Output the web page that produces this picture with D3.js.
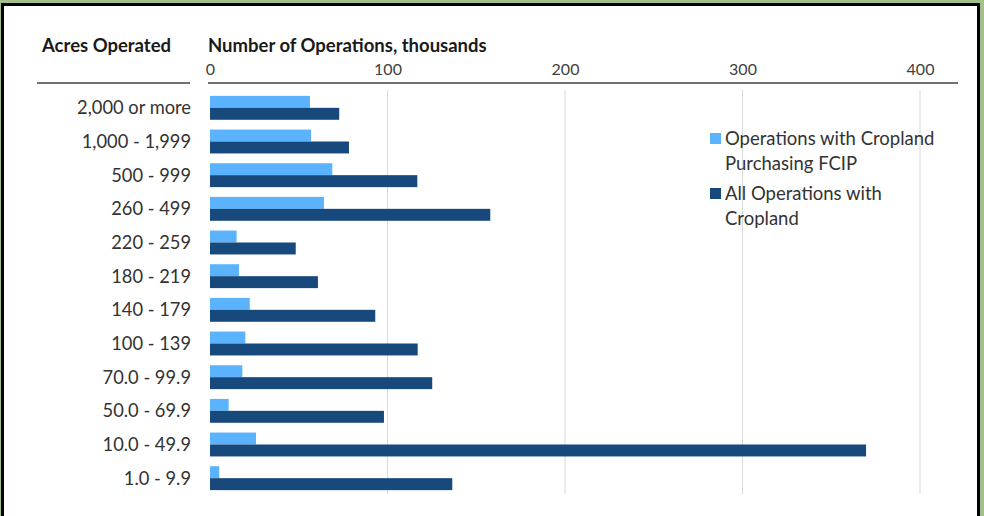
<!DOCTYPE html>
<html>
<head>
<meta charset="utf-8">
<script src="https://cdn.jsdelivr.net/npm/d3@7"></script>
<style>
  body { margin: 0; background: #a3bf8c; }
  svg { display: block; }
</style>
</head>
<body>
<svg></svg>
<script>
const acres = [
    "2,000 or more",
    "1,000 - 1,999",
    "500 - 999",
    "260 - 499",
    "220 - 259",
    "180 - 219",
    "140 - 179",
    "100 - 139",
    "70.0 - 99.9",
    "50.0 - 69.9",
    "10.0 - 49.9",
    "1.0 - 9.9"
];

// thousands of operations
const fcipOps = [56.3, 56.9, 68.9, 64.2, 15.0, 16.3, 22.4, 19.9, 18.2, 10.5, 25.9, 5.2];
const allOps = [72.8, 78.3, 116.8, 157.9, 48.3, 60.8, 93.1, 117.0, 125.2, 98.0, 369.6, 136.5];

const seriesNames = ["Operations with Cropland|Purchasing FCIP", "All Operations with|Cropland"];
const seriesColors = ["#5ab3fc", "#17497d"];
const xTicks = [0, 100, 200, 300, 400];

const W = 984, H = 516;
const font = "Lato, 'Open Sans', sans-serif";

const svg = d3.select("svg")
    .attr("width", W)
    .attr("height", H);

// black frame on white panel
svg.append("rect")
    .attr("x", 2.5).attr("y", 4.5)
    .attr("width", 976).attr("height", 530)
    .attr("fill", "#fff")
    .attr("stroke", "#000")
    .attr("stroke-width", 3);

const x = d3.scaleLinear()
    .domain([0, 400])
    .range([210, 920]);

const y = d3.scaleBand()
    .domain(acres)
    .range([91, 495])
    .paddingInner(0.29)
    .paddingOuter(0.145);

const sub = d3.scaleBand()
    .domain([0, 1])
    .range([0, y.bandwidth()]);

// gridlines
svg.append("g")
    .selectAll("line")
    .data(xTicks.slice(1))
    .enter().append("line")
    .attr("x1", d => x(d)).attr("x2", d => x(d))
    .attr("y1", 90).attr("y2", 494)
    .attr("stroke", "#d9d9d9")
    .attr("stroke-width", 1);

// top axis labels
const xAxis = svg.append("g")
    .attr("transform", "translate(0,75)")
    .call(d3.axisTop(x).tickValues(xTicks).tickSize(0).tickPadding(0));
xAxis.select(".domain").remove();
xAxis.selectAll("text")
    .attr("font-family", font)
    .attr("font-size", 16)
    .attr("fill", "#404040");

// header rules
svg.append("line")
    .attr("x1", 208).attr("x2", 958)
    .attr("y1", 83).attr("y2", 83)
    .attr("stroke", "#404040").attr("stroke-width", 1.3);
svg.append("line")
    .attr("x1", 37).attr("x2", 190)
    .attr("y1", 83).attr("y2", 83)
    .attr("stroke", "#404040").attr("stroke-width", 1.3);

// headers
svg.append("text")
    .attr("x", 42).attr("y", 52)
    .attr("font-family", font).attr("font-weight", "bold")
    .attr("font-size", 18.5).attr("fill", "#1a1a1a")
    .text("Acres Operated");
svg.append("text")
    .attr("x", 208).attr("y", 52)
    .attr("font-family", font).attr("font-weight", "bold")
    .attr("font-size", 18.5).attr("fill", "#1a1a1a")
    .text("Number of Operations, thousands");

// category labels
svg.append("g")
    .selectAll("text")
    .data(acres)
    .enter().append("text")
    .attr("x", 191)
    .attr("y", d => y(d) + y.bandwidth() / 2)
    .attr("dy", "0.35em")
    .attr("text-anchor", "end")
    .attr("font-family", font)
    .attr("font-size", 18.3)
    .attr("fill", "#333")
    .text(d => d);

// bars
[fcipOps, allOps].forEach((vals, s) => {
    svg.append("g")
        .selectAll("rect")
        .data(vals)
        .enter().append("rect")
        .attr("x", x(0))
        .attr("y", (d, i) => y(acres[i]) + sub(s))
        .attr("width", d => x(d) - x(0))
        .attr("height", sub.bandwidth())
        .attr("fill", seriesColors[s]);
});

// legend
const legend = svg.append("g");
seriesNames.forEach((name, s) => {
    const top = 133 + s * 55;
    legend.append("rect")
        .attr("x", 710).attr("y", top)
        .attr("width", 11).attr("height", 11)
        .attr("fill", seriesColors[s]);
    name.split("|").forEach((line, k) => {
        legend.append("text")
            .attr("x", 725)
            .attr("y", top + 6 + k * 25)
            .attr("dy", "0.35em")
            .attr("font-family", font)
            .attr("font-size", 18.5)
            .attr("fill", "#333")
            .text(line);
    });
});
</script>
</body>
</html>
